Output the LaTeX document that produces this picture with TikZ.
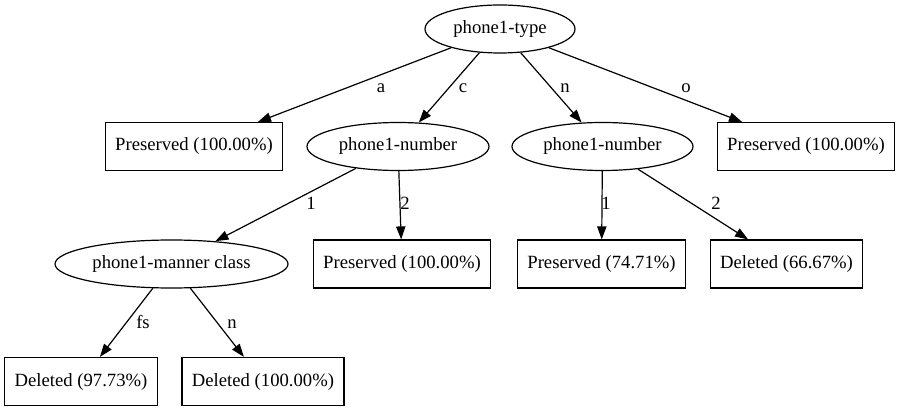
\documentclass[tikz,border=0pt]{standalone}
\usepackage{fontspec}
\setmainfont{Liberation Serif}
\usepackage{tikz}
\usetikzlibrary{arrows.meta,shapes.geometric}

\tikzset{
  every node/.style={font=\fontsize{18.67}{22}\selectfont, text height=13pt, text depth=4pt},
  split/.style={draw, ellipse, line width=1.2pt, inner sep=0pt, minimum height=48pt},
  leaf/.style={draw, rectangle, line width=1.2pt, inner xsep=10pt, inner ysep=0pt, minimum height=48pt},
  edge/.style={line width=1.2pt, -{Triangle[length=13pt,width=9.3pt]}},
  elabel/.style={anchor=base, inner sep=0pt}
}

\begin{document}
\begin{tikzpicture}[x=1pt, y=-1pt]
\useasboundingbox (0,0) rectangle (901,411);

% Tree nodes
\node[split, minimum width=150pt] (type) at (500,29) {phone1-type};

\node[leaf] (presA) at (194,146.5) {Preserved (100.00\%)};
\node[split, minimum width=182pt] (numC) at (398,146.5) {phone1-number};
\node[split, minimum width=181pt] (numN) at (602.5,146.5) {phone1-number};
\node[leaf] (presO) at (806,146.5) {Preserved (100.00\%)};

\node[split, minimum width=233pt] (manner) at (171.5,264) {phone1-manner class};
\node[leaf] (presC2) at (402,264) {Preserved (100.00\%)};
\node[leaf] (presN1) at (601.5,264) {Preserved (74.71\%)};
\node[leaf] (delN2) at (786.5,264) {Deleted (66.67\%)};

\node[leaf] (delFs) at (81,381.5) {Deleted (97.73\%)};
\node[leaf] (delN) at (263,381.5) {Deleted (100.00\%)};

% Edges
\draw[edge] (type) -- (presA);
\draw[edge] (type) -- (numC);
\draw[edge] (type) -- (numN);
\draw[edge] (type) -- (presO);

\draw[edge] (numC) -- (manner);
\draw[edge] (numC) -- (presC2);
\draw[edge] (numN) -- (presN1);
\draw[edge] (numN) -- (delN2);

\draw[edge] (manner) -- (delFs);
\draw[edge] (manner) -- (delN);

% Edge labels
\node[elabel] (la) at (381,93) {a};
\node[elabel] (lc) at (463,93) {c};
\node[elabel] (ln) at (565,93) {n};
\node[elabel] (lo) at (686,93) {o};
\node[elabel] (l1) at (311,210) {1};
\node[elabel] (l2) at (405,210) {2};
\node[elabel] (r1) at (606,210) {1};
\node[elabel] (r2) at (716,210) {2};
\node[elabel] (lfs) at (143,328) {fs};
\node[elabel] (lnn) at (232,328) {n};

\end{tikzpicture}
\end{document}
